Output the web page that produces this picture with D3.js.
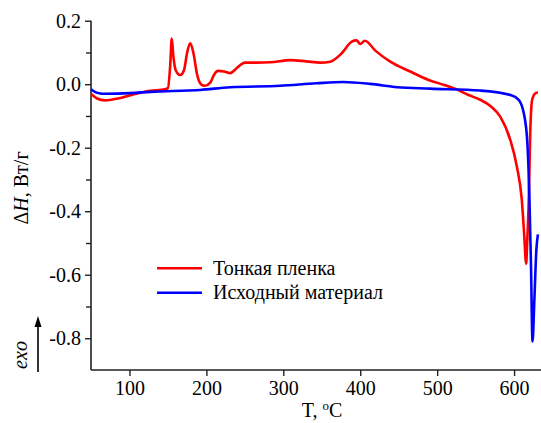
<!DOCTYPE html>
<html>
<head>
<meta charset="utf-8">
<script src="https://cdn.jsdelivr.net/npm/d3@7"></script>
<style>
  body { margin: 0; background: #fff; }
  svg text { font-family: "Liberation Serif", "Times New Roman", serif; fill: #000; }
</style>
</head>
<body>
<div id="chart"></div>
<script>
// thin film curve: temperature (C) and heat flow (W/g)
var filmT = [50, 58, 68, 85, 105, 127, 146, 150, 153, 155, 157, 160, 166, 171, 175, 179, 183, 188, 193, 198,
    205, 210, 215, 223, 231, 240, 250, 265, 283, 309, 330, 348, 361, 375, 389, 395, 400, 406, 420, 439,
    465, 489, 510, 523, 540, 556, 570, 582, 595, 603.6, 610, 613, 615.7, 617, 619, 621, 623.5, 628, 631];
var filmH = [-0.031, -0.045, -0.051, -0.045, -0.032, -0.021, -0.016, -0.012, 0.06, 0.144, 0.09, 0.045, 0.029, 0.045, 0.1, 0.129, 0.1, 0.03, 0.0, -0.005,
    0.005, 0.03, 0.042, 0.04, 0.035, 0.052, 0.068, 0.068, 0.069, 0.076, 0.072, 0.068, 0.071, 0.095, 0.134, 0.138, 0.127, 0.137, 0.105, 0.071,
    0.04, 0.0135, -0.003, -0.014, -0.033, -0.049, -0.07, -0.102, -0.175, -0.259, -0.363, -0.468, -0.565, -0.5, -0.374, -0.154, -0.049, -0.028, -0.026];

// starting material curve
var bulkT = [50, 55, 62, 68, 101, 127, 192, 231, 296, 343, 378, 413, 448, 491, 556, 595, 606, 612.6, 617, 620, 622, 624, 626.4, 629, 631];
var bulkH = [-0.016, -0.024, -0.029, -0.03, -0.028, -0.024, -0.018, -0.0095, -0.005, 0.003, 0.007, 0.001, -0.0095, -0.014, -0.02, -0.034, -0.049, -0.091, -0.175, -0.363, -0.573, -0.81, -0.677, -0.52, -0.473];

var seriesNames = ["Тонкая пленка", "Исходный материал"];
var seriesColors = ["#ff0000", "#0000ff"];
var xTicks = [100, 200, 300, 400, 500, 600];
var yTicks = [-0.8, -0.6, -0.4, -0.2, 0.0, 0.2];
var yMinor = [-0.7, -0.5, -0.3, -0.1, 0.1];

var W = 541, H = 423;
var mLeft = 91, mRight = 541, mTop = 20.7, mBottom = 370;

var svg = d3.select("#chart").append("svg")
    .attr("width", W).attr("height", H);

var x = d3.scaleLinear().domain([50, 635]).range([mLeft, mRight]);
var y = d3.scaleLinear().domain([-0.9, 0.2]).range([mBottom, mTop]);

var fmt = function(d) { return d3.format(".1f")(d).replace("\u2212", "-"); };

// axes
var xAxis = d3.axisBottom(x).tickValues(xTicks).tickSize(6).tickPadding(5).tickFormat(d3.format("d"));
var gx = svg.append("g").attr("transform", "translate(0," + mBottom + ")").call(xAxis);

var yAxis = d3.axisLeft(y).tickValues(yTicks).tickSize(6).tickPadding(4).tickFormat(fmt);
var gy = svg.append("g").attr("transform", "translate(" + mLeft + ",0)").call(yAxis);

var gm = svg.append("g").attr("transform", "translate(" + mLeft + ",0)")
    .call(d3.axisLeft(y).tickValues(yMinor).tickSize(5).tickFormat(""));
gm.select(".domain").remove();

[gx, gy, gm].forEach(function(g) {
    g.select(".domain").attr("stroke", "#222").attr("stroke-width", 1.6);
    g.selectAll(".tick line").attr("stroke", "#222").attr("stroke-width", 1.4);
    g.selectAll(".tick text").style("font-family", "Liberation Serif").style("font-size", "20px").attr("fill", "#000");
});
gx.select(".domain").attr("d", "M" + mLeft + ",0H" + mRight);
gy.select(".domain").attr("d", "M0," + mBottom + "V" + mTop);

// curves
var line = d3.line()
    .x(function(d) { return x(d[0]); })
    .y(function(d) { return y(d[1]); })
    .curve(d3.curveMonotoneX);

var curves = [d3.zip(filmT, filmH), d3.zip(bulkT, bulkH)];
curves.forEach(function(c, i) {
    svg.append("path").attr("d", line(c)).attr("fill", "none")
        .attr("stroke", seriesColors[i]).attr("stroke-width", 2.6)
        .attr("stroke-linejoin", "round");
});

// legend
seriesNames.forEach(function(name, i) {
    var ly = 268.3 + i * 24.4;
    svg.append("line").attr("x1", 157).attr("x2", 202).attr("y1", ly).attr("y2", ly)
        .attr("stroke", seriesColors[i]).attr("stroke-width", 2.6);
    svg.append("text").attr("x", 213).attr("y", ly + 6.5)
        .style("font-size", "20px").text(name);
});

// axis titles
var yl = svg.append("text").attr("text-anchor", "middle")
    .attr("transform", "translate(28,188)rotate(-90)")
    .style("font-size", "20px");
yl.append("tspan").text("\u0394");
yl.append("tspan").style("font-style", "italic").text("H");
yl.append("tspan").text(", Вт/г");

var xl = svg.append("text").attr("text-anchor", "middle")
    .attr("x", 322).attr("y", 417).style("font-size", "20px");
xl.append("tspan").text("T, ");
xl.append("tspan").attr("dy", -7).style("font-size", "13px").text("o");
xl.append("tspan").attr("dy", 7).text("C");

// exo marker
svg.append("text").attr("text-anchor", "middle")
    .attr("transform", "translate(27,355)rotate(-90)")
    .style("font-size", "20px").style("font-style", "italic").text("exo");
svg.append("line").attr("x1", 38).attr("x2", 38).attr("y1", 372).attr("y2", 324)
    .attr("stroke", "#000").attr("stroke-width", 1.6);
svg.append("path").attr("d", "M38,316 L34.5,327 L41.5,327 Z").attr("fill", "#000");
</script>
</body>
</html>
